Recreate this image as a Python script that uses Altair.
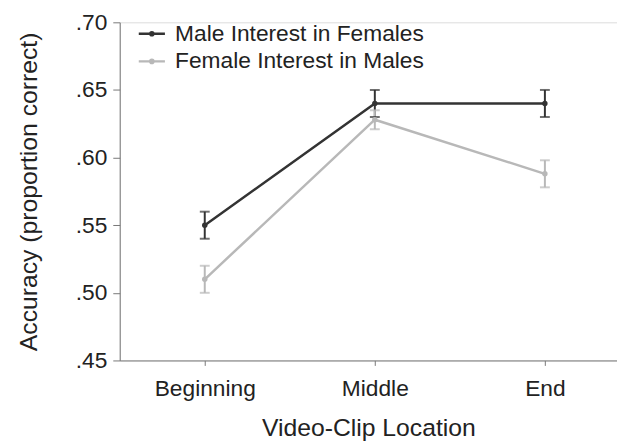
import altair as alt
import pandas as pd

locations = ["Beginning", "Middle", "End"]
male_vals = [0.55, 0.64, 0.64]
male_err = [0.01, 0.01, 0.01]
female_vals = [0.51, 0.628, 0.588]
female_err = [0.01, 0.007, 0.01]
series = ["Male Interest in Females", "Female Interest in Males"]

rows = []
for i, loc in enumerate(locations):
    rows.append(dict(idx=i, loc=loc, series=series[0], v=male_vals[i],
                     lo=male_vals[i] - male_err[i], hi=male_vals[i] + male_err[i]))
    rows.append(dict(idx=i, loc=loc, series=series[1], v=female_vals[i],
                     lo=female_vals[i] - female_err[i], hi=female_vals[i] + female_err[i]))
df = pd.DataFrame(rows)

FONT = "Liberation Sans"
TXT = "#222222"
color = alt.Color("series:N", scale=alt.Scale(domain=series, range=["#333333", "#b8b8b8"]),
                  legend=alt.Legend(title=None, orient="none", legendX=18, legendY=-3,
                                    symbolType="M-1,0H1M-0.12,0a0.12,0.12 0 1,0 0.24,0a0.12,0.12 0 1,0 -0.24,0",
                                    symbolSize=700, symbolStrokeWidth=2.5,
                                    labelFontSize=23, labelFont=FONT, labelColor=TXT,
                                    labelLimit=0, rowPadding=1, labelOffset=9))

x = alt.X("idx:Q", scale=alt.Scale(domain=[-0.5, 2.424], nice=False, zero=False),
          axis=alt.Axis(title="Video-Clip Location", values=[0, 1, 2],
                        labelExpr="['Beginning','Middle','End'][datum.value]",
                        grid=False, domainColor="#777777", tickColor="#777777", tickSize=5,
                        labelFontSize=23, labelFont=FONT, labelColor=TXT, labelPadding=12,
                        titleFontSize=25, titleFont=FONT, titleFontWeight="normal",
                        titleColor=TXT, titlePadding=16))
y = alt.Y("v:Q", scale=alt.Scale(domain=[0.45, 0.70], nice=False, zero=False),
          axis=alt.Axis(title="Accuracy (proportion correct)", values=[0.45, 0.5, 0.55, 0.6, 0.65, 0.7],
                        labelExpr="replace(format(datum.value, '.2f'), '0.', '.')",
                        grid=False, domainColor="#777777", tickColor="#777777", tickSize=7,
                        labelFontSize=23, labelFont=FONT, labelColor=TXT, labelPadding=6,
                        titleFontSize=25, titleFont=FONT, titleFontWeight="normal",
                        titleColor=TXT, titlePadding=34))

base = alt.Chart(df)
nolegend = alt.Color("series:N", legend=None)
lines = base.mark_line(strokeWidth=2.5).encode(x=x, y=y, color=color)
pts = base.mark_point(filled=True, size=30, opacity=1).encode(x="idx:Q", y="v:Q", color=nolegend)
rules = base.mark_rule(strokeWidth=2).encode(x="idx:Q", y="lo:Q", y2="hi:Q", color=nolegend)
cap_lo = base.mark_tick(orient="horizontal", size=10, thickness=2).encode(x="idx:Q", y="lo:Q", color=nolegend)
cap_hi = base.mark_tick(orient="horizontal", size=10, thickness=2).encode(x="idx:Q", y="hi:Q", color=nolegend)

chart = alt.layer(lines, rules, cap_lo, cap_hi, pts).properties(
    width=503, height=342,
    autosize=alt.AutoSizeParams(type="none"),
    padding={"left": 113, "top": 12, "right": 0, "bottom": 80},
).configure_view(stroke=None).configure(background="white")

chart.save("out.html", embed_options={"renderer": "svg", "actions": False})
